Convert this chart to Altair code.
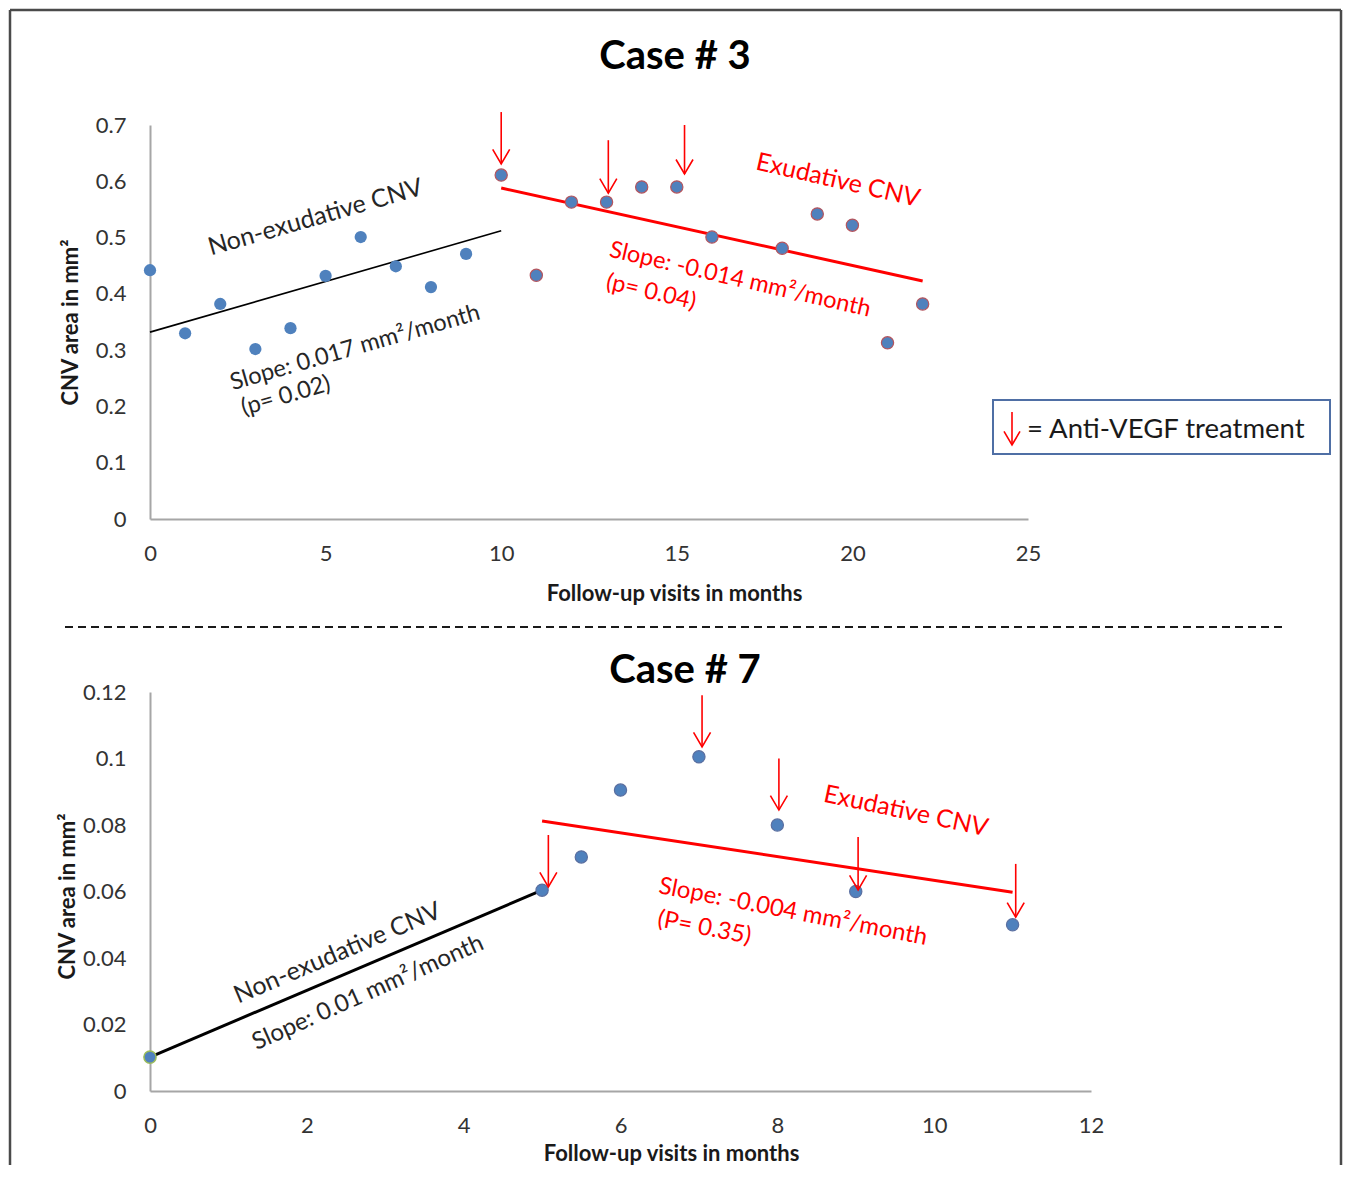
import altair as alt
import pandas as pd

FONT = "Lato"
BLUE = "#4F81BD"
RED = "#FF0000"
DARK = "#262626"

# ---------------- Case # 3 data ----------------
c3_month_nonex = [0, 1, 2, 3, 4, 5, 6, 7, 8, 9]
c3_area_nonex = [0.442, 0.330, 0.382, 0.302, 0.339, 0.432, 0.501, 0.449, 0.412, 0.471]
c3_month_ex = [10, 11, 12, 13, 14, 15, 16, 18, 19, 20, 21, 22]
c3_area_ex = [0.611, 0.433, 0.563, 0.563, 0.590, 0.590, 0.501, 0.481, 0.542, 0.522, 0.313, 0.382]
c3_fit_nonex_x = [0, 10]
c3_fit_nonex_y = [0.332, 0.512]
c3_fit_ex_x = [10, 22]
c3_fit_ex_y = [0.588, 0.423]
c3_arrow_x = [10, 13.05, 15.22]
c3_arrow_tail = [0.723, 0.673, 0.700]
c3_arrow_tip = [0.631, 0.579, 0.613]
# phase labels
c3_lab_text = ["Non-exudative CNV", "Exudative CNV"]
c3_lab_x = [4.71, 19.59]
c3_lab_y = [0.536, 0.602]
c3_lab_angle = [344, 13]
c3_lab_color = [DARK, RED]
# slope statistics
c3_stat_text = ["Slope: 0.017 mm²/month", "(p= 0.02)",
                "Slope: -0.014 mm²/month", "(p= 0.04)"]
c3_stat_x = [5.84, 3.87, 16.8, 14.27]
c3_stat_y = [0.304, 0.2185, 0.425, 0.403]
c3_stat_angle = [344, 344, 13, 13]
c3_stat_color = [DARK, DARK, RED, RED]
c3_xticks = [0, 5, 10, 15, 20, 25]
c3_yticks = [0, 0.1, 0.2, 0.3, 0.4, 0.5, 0.6, 0.7]

# ---------------- Case # 7 data ----------------
c7_month_nonex = [0]
c7_area_nonex = [0.0102]
c7_month_ex = [5, 5.5, 6, 7, 8, 9, 11]
c7_area_ex = [0.0604, 0.0704, 0.0905, 0.1005, 0.080, 0.060, 0.050]
c7_fit_nonex_x = [0, 5]
c7_fit_nonex_y = [0.0102, 0.0604]
c7_fit_ex_x = [5, 11]
c7_fit_ex_y = [0.0812, 0.0598]
c7_arrow_x = [5.08, 7.04, 8.02, 9.03, 11.04]
c7_arrow_tail = [0.077, 0.119, 0.100, 0.0764, 0.0683]
c7_arrow_tip = [0.0614, 0.1035, 0.0845, 0.0605, 0.0523]
c7_lab_text = ["Non-exudative CNV", "Exudative CNV"]
c7_lab_x = [2.39, 9.64]
c7_lab_y = [0.0415, 0.0842]
c7_lab_angle = [337, 12]
c7_lab_color = [DARK, RED]
c7_stat_text = ["Slope: 0.01 mm²/month", "Slope: -0.004 mm²/month", "(P= 0.35)"]
c7_stat_x = [2.78, 8.2, 7.07]
c7_stat_y = [0.0295, 0.0538, 0.049]
c7_stat_angle = [336, 11, 11]
c7_stat_color = [DARK, RED, RED]
c7_xticks = [0, 2, 4, 6, 8, 10, 12]
c7_yticks = [0, 0.02, 0.04, 0.06, 0.08, 0.1, 0.12]

ARROW_HEAD = "M-1,-1.7L0,0L1,-1.7"
XTITLE = "Follow-up visits in months"
YTITLE = "CNV area in mm²"

one = pd.DataFrame({"d": [0]})


def text_layer(X, Y, texts, xs, ys, angles, colors, size):
    df = pd.DataFrame({"x": xs, "y": ys, "t": texts, "a": angles, "c": colors})
    return alt.Chart(df).mark_text(
        font=FONT, fontSize=size, align="center", baseline="middle").encode(
        x=X, y=Y, text="t:N",
        angle=alt.Angle("a:Q", scale=None),
        color=alt.Color("c:N", scale=None))


def make_panel(title, title_pos, xdom, ydom, xticks, yticks,
               xtitle_xy, ytitle_xy,
               nonex_x, nonex_y, ex_x, ex_y, nonex_stroke, ex_stroke,
               fit_nx_x, fit_nx_y, fit_nx_w, fit_ex_x, fit_ex_y,
               arr_x, arr_tail, arr_tip, labels, stats, stat_size):
    X = alt.X("x:Q", scale=alt.Scale(domain=xdom, nice=False, zero=False),
              axis=alt.Axis(values=xticks, title=XTITLE, titleX=xtitle_xy[0],
                            titleY=xtitle_xy[1], titleBaseline="middle",
                            format="~g"))
    Y = alt.Y("y:Q", scale=alt.Scale(domain=ydom, nice=False, zero=False),
              axis=alt.Axis(values=yticks, title=YTITLE, titleX=ytitle_xy[0],
                            titleY=ytitle_xy[1], titleAngle=270,
                            titleBaseline="middle", titleAlign="center",
                            format="~g"))

    fit_nx = alt.Chart(pd.DataFrame({"x": fit_nx_x, "y": fit_nx_y})).mark_line(
        color="black", strokeWidth=fit_nx_w).encode(x=X, y=Y)
    fit_ex = alt.Chart(pd.DataFrame({"x": fit_ex_x, "y": fit_ex_y})).mark_line(
        color=RED, strokeWidth=3).encode(x=X, y=Y)

    kw = dict(filled=True, color=BLUE, opacity=1, size=150)
    if nonex_stroke:
        kw.update(stroke=nonex_stroke, strokeWidth=1.5)
    pts_nx = alt.Chart(pd.DataFrame({"x": nonex_x, "y": nonex_y})).mark_circle(
        **kw).encode(x=X, y=Y)
    kw = dict(filled=True, color=BLUE, opacity=1, size=150)
    if ex_stroke:
        kw.update(stroke=ex_stroke, strokeWidth=1.2)
    pts_ex = alt.Chart(pd.DataFrame({"x": ex_x, "y": ex_y})).mark_circle(
        **kw).encode(x=X, y=Y)

    arr_df = pd.DataFrame({"x": arr_x, "y": arr_tail, "tip": arr_tip})
    shafts = alt.Chart(arr_df).mark_rule(color=RED, strokeWidth=1.6).encode(
        x=X, y=Y, y2=alt.Y2("tip:Q"))
    heads = alt.Chart(arr_df).mark_point(
        shape=ARROW_HEAD, filled=False, stroke=RED, strokeWidth=1.6,
        opacity=1, size=289).encode(x=X, y=alt.Y("tip:Q"))

    lab = text_layer(X, Y, *labels, 25)
    stat = text_layer(X, Y, *stats, stat_size)

    ttl = alt.Chart(one).mark_text(
        text=title, font=FONT, fontSize=40, fontWeight="bold", color="black",
        align="center", baseline="middle").encode(
        x=alt.value(title_pos[0]), y=alt.value(title_pos[1]))

    return [fit_nx, fit_ex, pts_nx, pts_ex, shafts, heads, lab, stat, ttl]


top_layers = make_panel(
    "Case # 3", (525, -68), [0, 25], [0, 0.7], c3_xticks, c3_yticks,
    (524, 74), (-80, 197),
    c3_month_nonex, c3_area_nonex, c3_month_ex, c3_area_ex, None, "#B4555E",
    c3_fit_nonex_x, c3_fit_nonex_y, 1.6, c3_fit_ex_x, c3_fit_ex_y,
    c3_arrow_x, c3_arrow_tail, c3_arrow_tip,
    (c3_lab_text, c3_lab_x, c3_lab_y, c3_lab_angle, c3_lab_color),
    (c3_stat_text, c3_stat_x, c3_stat_y, c3_stat_angle, c3_stat_color), 23.5)

bot_layers = make_panel(
    "Case # 7", (535, -21), [0, 12], [0, 0.12], c7_xticks, c7_yticks,
    (521, 62), (-83, 204),
    c7_month_nonex, c7_area_nonex, c7_month_ex, c7_area_ex, "#9BBB59", "#5A6FA0",
    c7_fit_nonex_x, c7_fit_nonex_y, 3, c7_fit_ex_x, c7_fit_ex_y,
    c7_arrow_x, c7_arrow_tail, c7_arrow_tip,
    (c7_lab_text, c7_lab_x, c7_lab_y, c7_lab_angle, c7_lab_color),
    (c7_stat_text, c7_stat_x, c7_stat_y, c7_stat_angle, c7_stat_color), 24)

# ---------- decorations in the top panel (pixel positions) ----------
FR = "#4A4A4A"
frame_top = alt.Chart(one).mark_rule(color=FR, strokeWidth=2.5).encode(
    x=alt.value(-140), x2=alt.value(1191), y=alt.value(-115))
frame_left = alt.Chart(one).mark_rule(color=FR, strokeWidth=2.5).encode(
    x=alt.value(-140), y=alt.value(-115), y2=alt.value(1040))
frame_right = alt.Chart(one).mark_rule(color=FR, strokeWidth=2.5).encode(
    x=alt.value(1191), y=alt.value(-115), y2=alt.value(1040))
separator = alt.Chart(one).mark_rule(color="#1a1a1a", strokeWidth=2,
                                     strokeDash=[8, 5]).encode(
    x=alt.value(-85), x2=alt.value(1135), y=alt.value(502))

legend_box = alt.Chart(one).mark_rect(fill="white", fillOpacity=0,
                                      stroke="#4F6FA5", strokeWidth=2).encode(
    x=alt.value(843), x2=alt.value(1180), y=alt.value(275), y2=alt.value(329))
legend_shaft = alt.Chart(one).mark_rule(color=RED, strokeWidth=1.6).encode(
    x=alt.value(862), y=alt.value(287), y2=alt.value(320))
legend_head = alt.Chart(one).mark_point(
    shape=ARROW_HEAD, filled=False, stroke=RED, strokeWidth=1.6, opacity=1,
    size=256).encode(x=alt.value(862), y=alt.value(320))
legend_text = alt.Chart(one).mark_text(
    text="= Anti-VEGF treatment", font=FONT, fontSize=27.5, color="#1a1a1a",
    align="left", baseline="middle").encode(x=alt.value(877), y=alt.value(305))

top = alt.layer(frame_top, frame_left, frame_right, separator,
                legend_box, legend_shaft, legend_head, legend_text,
                *top_layers).properties(width=878, height=394)
bottom = alt.layer(*bot_layers).properties(width=941, height=399)

chart = alt.vconcat(top, bottom, spacing=173, bounds="flush").properties(
    padding=0
).configure_view(stroke=None).configure_axis(
    labelFont=FONT, titleFont=FONT, labelFontSize=22, titleFontSize=22,
    labelColor="#333333", titleColor="#1a1a1a", titleFontWeight="bold",
    domainColor="#A6A6A6", domainWidth=2, ticks=False, grid=False,
    labelPadding=24, labelFlush=False, labelOverlap=False
)

chart.save("out.html", embed_options={"renderer": "svg", "actions": False})
